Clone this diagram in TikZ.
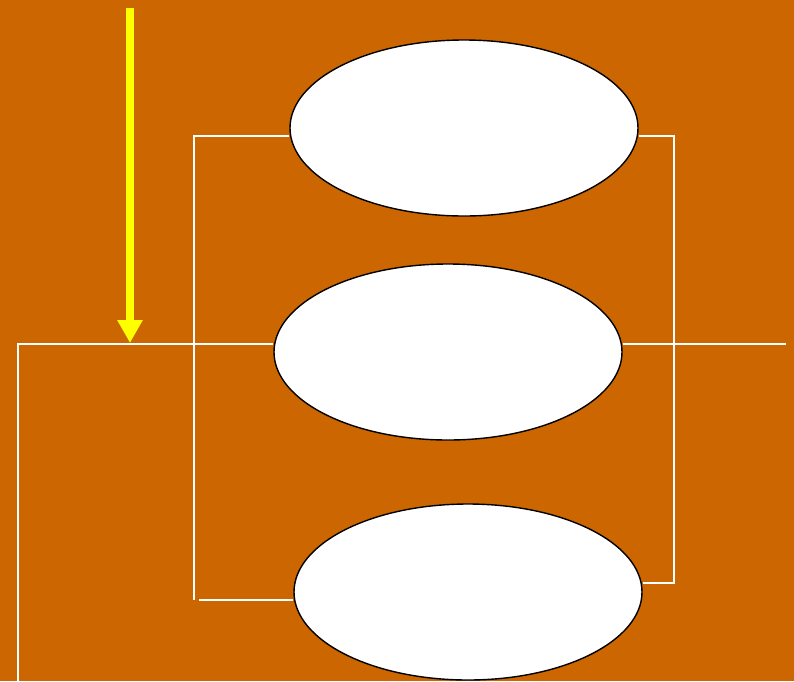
\documentclass[tikz,border=0pt]{standalone}
\usetikzlibrary{shapes.geometric,arrows.meta}
\definecolor{bgorange}{HTML}{CC6600}
\definecolor{arrowyellow}{HTML}{FFFF00}
\begin{document}
\begin{tikzpicture}[x=1pt,y=-1pt,
  oval/.style={ellipse,draw=black,line width=1.4pt,fill=white,
    minimum width=348pt,minimum height=176pt,inner sep=0pt},
  wire/.style={draw=white,line width=1.8pt},
  feed/.style={draw=arrowyellow,line width=8pt,
    -{Triangle[width=24pt,length=23pt]}}]
  % background
  \fill[bgorange] (0,0) rectangle (794,681);
  \useasboundingbox (0,0) rectangle (794,681);

  % the three ovals
  \node[oval] (e1) at (464,128) {};
  \node[oval] (e2) at (448,352) {};
  \node[oval] (e3) at (468,592) {};

  % bracket corners and free ends
  \coordinate (lt) at (194,136);
  \coordinate (lb) at (194,600);
  \coordinate (lbs) at (199,600);
  \coordinate (rt) at (674,136);
  \coordinate (rb) at (674,583);
  \coordinate (inL) at (18,344);
  \coordinate (inD) at (18,681);
  \coordinate (outR) at (786,344);
  \coordinate (arrTop) at (130,8);
  \coordinate (arrTip) at (130,343);

  % left bracket
  \draw[wire] (lt -| e1.west) -- (lt) -- (lb);
  \draw[wire] (lbs) -- (lbs -| e3.west);
  % right bracket
  \draw[wire] (rt -| e1.east) -- (rt) -- (rb) -- (rb -| e3.east);
  % through line
  \draw[wire] (inD) -- (inL) -- (inL -| e2.west);
  \draw[wire] (outR -| e2.east) -- (outR);

  % input arrow
  \draw[feed] (arrTop) -- (arrTip);
\end{tikzpicture}
\end{document}
